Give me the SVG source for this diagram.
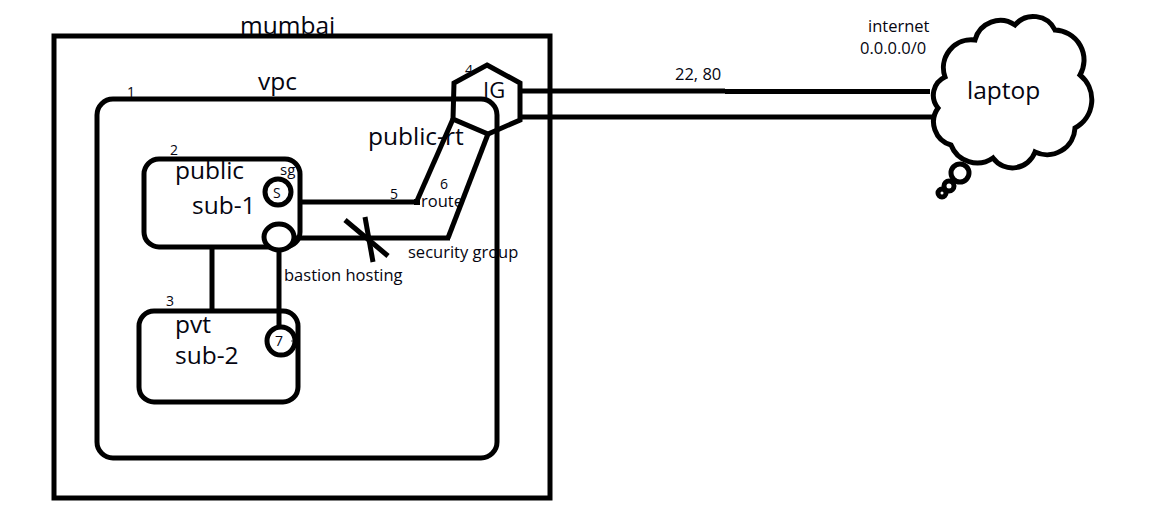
<svg xmlns="http://www.w3.org/2000/svg" width="1155" height="514" viewBox="0 0 1155 514">
<style>
.ln{fill:none;stroke:#000;stroke-width:5;stroke-linejoin:miter}
.wf{fill:#fff;stroke:#000;stroke-width:5}
.t{font-family:"Open Sans","Noto Sans",sans-serif;fill:#050510}
.big{font-size:24.5px}
.sm{font-size:14px}
.md{font-size:16.5px}
</style>
<rect width="1155" height="514" fill="#fff"/>
<g id="mumbai">
<rect class="ln" x="54" y="36" width="496" height="462"/>
<text class="t big" x="240" y="34">mumbai</text>
</g>
<g id="vpc">
<rect class="ln" x="97" y="99" width="400" height="359" rx="16"/>
<text class="t big" x="258" y="90">vpc</text>
<text class="t sm" x="127" y="97">1</text>
</g>
<g id="ig">
<polygon class="ln" points="487,65 520,83 520,120 488,134 453,119 454,83"/>
<text class="t" font-size="22" x="483" y="98">IG</text>
<text class="t sm" x="465" y="75">4</text>
<text class="t big" x="368" y="145">public-rt</text>
</g>
<g id="public-sub-1">
<rect class="ln" x="144" y="159" width="156" height="88" rx="15"/>
<text class="t big" x="175" y="179">public</text>
<text class="t big" x="192" y="214">sub-1</text>
<text class="t sm" x="170" y="155">2</text>
</g>
<g id="sg">
<circle class="wf" cx="278" cy="192" r="13"/>
<text class="t sm" x="273" y="198">S</text>
<text class="t" font-size="15" x="280" y="175">sg</text>
</g>
<g id="bastion">
<ellipse class="wf" cx="279" cy="237" rx="15" ry="13"/>
<text class="t md" x="284" y="281">bastion hosting</text>
</g>
<g id="pvt-sub-2">
<rect class="ln" x="139" y="311" width="159" height="91" rx="15"/>
<text class="t big" x="175" y="333">pvt</text>
<text class="t big" x="175" y="364">sub-2</text>
<text class="t sm" x="166" y="306">3</text>
</g>
<g id="laptop">
<path class="ln" stroke-width="4.5" d="M945,77 A20,20 0 0 0 938,108 A24,24 0 0 0 951,145 A28,28 0 0 0 993,158 A24,24 0 0 0 1035,152 A28,28 0 0 0 1075,128 A32,32 0 0 0 1080,75 A30,30 0 0 0 1055,30 A24,24 0 0 0 1015,25 A26,26 0 0 0 975,40 A28,28 0 0 0 945,77 Z"/>
<circle class="ln" stroke-width="4" cx="960" cy="173" r="9"/>
<circle class="ln" stroke-width="4" cx="949" cy="186" r="5"/>
<circle class="ln" stroke-width="4" cx="942" cy="193" r="4"/>
<text class="t big" x="967" y="99">laptop</text>
<text class="t md" x="868" y="32">internet</text>
<text class="t md" x="860" y="54">0.0.0.0/0</text>
</g>
<g id="connectors">
<line class="ln" x1="520" y1="91" x2="725" y2="91"/>
<line class="ln" x1="725" y1="91.5" x2="930" y2="91.5" stroke-width="4.5"/>
<line class="ln" x1="520" y1="117" x2="932" y2="117"/>
<text class="t md" x="675" y="80">22, 80</text>
<line class="ln" x1="300" y1="202" x2="418" y2="202"/>
<line class="ln" x1="416" y1="203" x2="453" y2="119"/>
<rect x="414" y="199" width="6" height="6" fill="#000"/>
<text class="t sm" x="390" y="199">5</text>
<text class="t sm" x="440" y="189">6</text>
<text class="t md" x="421" y="207">route</text>
<line class="ln" x1="294" y1="238" x2="450" y2="238"/>
<line class="ln" x1="448" y1="238" x2="488" y2="134"/>
<text class="t md" x="408" y="258">security group</text>
<line class="ln" x1="345" y1="220" x2="388" y2="256" stroke-width="4"/>
<line class="ln" x1="365" y1="217" x2="373" y2="262" stroke-width="4"/>
<line class="ln" x1="212" y1="247" x2="212" y2="311"/>
<line class="ln" x1="279" y1="250" x2="279" y2="327"/>
</g>
<g id="c7">
<circle class="wf" cx="281" cy="341" r="14"/>
<text class="t sm" x="275" y="346">7</text>
<circle cx="292" cy="341" r="0.8" fill="#333"/>
</g>
</svg>
